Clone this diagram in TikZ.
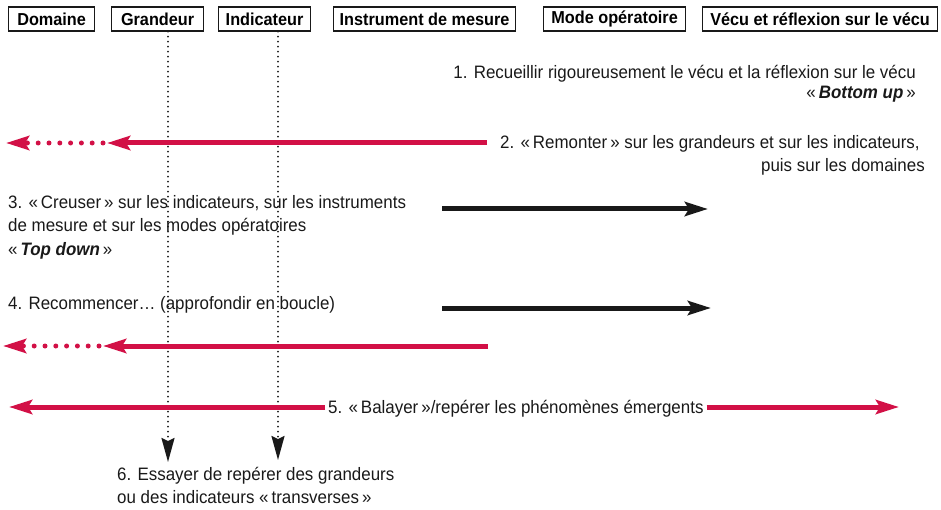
\documentclass[tikz,border=0pt]{standalone}
\usepackage{fontspec}
\setmainfont[FakeStretch=0.94]{Liberation Sans}
\usetikzlibrary{arrows.meta}
\definecolor{rouge}{RGB}{210,16,70}
\definecolor{noir}{RGB}{25,25,25}
\begin{document}
\begin{tikzpicture}[x=1pt,y=-1pt,
  hdr/.style={draw=noir, line width=1.2pt, font=\bfseries\fontsize{17.3}{19}\selectfont, minimum height=24pt, inner sep=0pt, anchor=west},
  txt/.style={font=\fontsize{18}{20}\selectfont, inner sep=0pt, text=noir},
  tip/.style={-{Stealth[length=23pt,width=14pt,inset=4pt]}},
  redarr/.style={draw=rouge, line width=5pt, tip},
  blkarr/.style={draw=noir, line width=5pt, tip},
  dotarr/.style={draw=rouge, line width=5pt, dash pattern=on 0pt off 10.8pt, line cap=round, tip},
  vdot/.style={draw=noir, line width=2pt, dash pattern=on 0pt off 5pt, line cap=round, -{Stealth[length=24pt,width=13pt,inset=3pt]}}
]
\useasboundingbox (0,0) rectangle (941,510);
% headers
\node[hdr, minimum width=86pt] (dom) at (8,19) {Domaine};
\node[hdr, minimum width=92pt] (gra) at (111,19) {Grandeur};
\node[hdr, minimum width=92pt] (ind) at (218,19) {Indicateur};
\node[hdr, minimum width=182pt] (ins) at (333,19) {Instrument de mesure};
\node[hdr, minimum width=142pt] (mod) at (543,19) {Mode opératoire};
\node[hdr, minimum width=235pt] (vec) at (702,19) {Vécu et réflexion sur le vécu};
% texts
\node[txt, anchor=base east] (t1a) at (916,79) {1. Recueillir rigoureusement le vécu et la réflexion sur le vécu};
\node[txt, anchor=base east] (t1b) at (916,99) {«\,\textbf{\textit{Bottom up}}\,»};
\node[txt, anchor=base west, inner xsep=13pt] (t2a) at (487,149) {2. «\,Remonter\,» sur les grandeurs et sur les indicateurs,};
\node[txt, anchor=base east] (t2b) at (925,172) {puis sur les domaines};
\node[txt, anchor=base west] (t3a) at (8,209) {3. «\,Creuser\,» sur les indicateurs, sur les instruments};
\node[txt, anchor=base west] (t3b) at (8,232) {de mesure et sur les modes opératoires};
\node[txt, anchor=base west] (t3c) at (8,256) {«\,\textbf{\textit{Top down}}\,»};
\node[txt, anchor=base west] (t4) at (8,309) {4. Recommencer… (approfondir en boucle)};
\node[txt, anchor=base west, inner xsep=3pt] (t5) at (325,413) {5. «\,Balayer\,»/repérer les phénomènes émergents};
\node[txt, anchor=base west] (t6a) at (117,480) {6. Essayer de repérer des grandeurs};
\node[txt, anchor=base west] (t6b) at (117,503) {ou des indicateurs «\,transverses\,»};
% coordinates
\coordinate (r2m) at (107,143);
\coordinate (r2e) at (6,143);
\coordinate (b3s) at (442,209);
\coordinate (b3e) at (708,209);
\coordinate (b4s) at (442,308);
\coordinate (b4e) at (711,308);
\coordinate (r4s) at (488,346);
\coordinate (r4m) at (103,346);
\coordinate (r4e) at (3,346);
\coordinate (r5l) at (9,407);
\coordinate (r5r) at (899,407);
\coordinate (v1) at (168,462);
\coordinate (v2) at (278,460);
% vertical dotted lines
\draw[vdot] (gra.south -| v1) -- (v1);
\draw[vdot] (ind.south -| v2) -- (v2);
% arrows
\draw[redarr] (t2a.west |- r2m) -- (r2m);
\draw[dotarr] ([xshift=-4pt]r2m) -- (r2e);
\draw[blkarr] (b3s) -- (b3e);
\draw[blkarr] (b4s) -- (b4e);
\draw[redarr] (r4s) -- (r4m);
\draw[dotarr] ([xshift=-4pt]r4m) -- (r4e);
\draw[redarr] (t5.west |- r5l) -- (r5l);
\draw[redarr] (t5.east |- r5r) -- (r5r);
\end{tikzpicture}
\end{document}
